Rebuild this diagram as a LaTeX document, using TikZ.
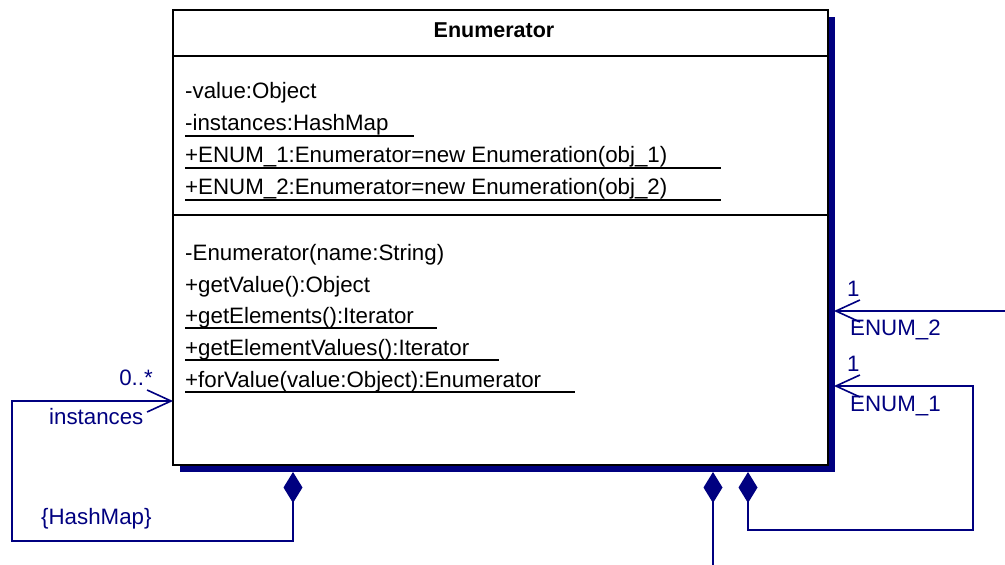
\documentclass[tikz,border=0pt]{standalone}
\usepackage{fontspec}
\setmainfont{Liberation Sans}
\usetikzlibrary{arrows.meta}
\definecolor{umlblue}{RGB}{0,0,128}
\begin{document}
\begin{tikzpicture}[x=1pt,y=-1pt,
  txt/.style={anchor=base west, inner sep=0pt, font=\fontsize{22.3pt}{26pt}\selectfont},
  lbl/.style={txt, text=umlblue},
  uline/.style={line width=1.5pt, black},
  sep/.style={line width=2pt, black},
  assoc/.style={line width=1.6pt, umlblue},
  dia/.tip={Diamond[length=31pt,width=19pt]},
  barb/.tip={Straight Barb[length=24pt,width=22pt]}
]
\useasboundingbox (0,0) rectangle (1005,565);
% shadow and class box
\fill[umlblue] (180,17) rectangle (835,472);
\node[draw=black, line width=2pt, fill=white, minimum width=655pt, minimum height=455pt, inner sep=0pt] (cls) at (500.5,237.5) {};
\draw[sep] (173,56) -- (828,56);
\draw[sep] (173,215) -- (828,215);
\node[anchor=base, inner sep=0pt, font=\bfseries\fontsize{21.5pt}{26pt}\selectfont] (title) at (494,37) {Enumerator};
% attributes
\node[txt] (a1) at (185,98) {-value:Object};
\node[txt] (a2) at (185,130) {-instances:HashMap};
\node[txt] (a3) at (185,162) {+ENUM\_1:Enumerator=new Enumeration(obj\_1)};
\node[txt] (a4) at (185,194) {+ENUM\_2:Enumerator=new Enumeration(obj\_2)};
\draw[uline] (185,136) -- (414,136);
\draw[uline] (185,168) -- (721,168);
\draw[uline] (185,200) -- (721,200);
% operations
\node[txt] (o1) at (185,260) {-Enumerator(name:String)};
\node[txt] (o2) at (185,292) {+getValue():Object};
\node[txt] (o3) at (185,323) {+getElements():Iterator};
\node[txt] (o4) at (185,355) {+getElementValues():Iterator};
\node[txt] (o5) at (185,387) {+forValue(value:Object):Enumerator};
\draw[uline] (185,328) -- (437,328);
\draw[uline] (185,360) -- (499,360);
\draw[uline] (185,392) -- (575,392);
% connector end points
\coordinate (dI) at (293,472);
\coordinate (aI) at (173,401);
\coordinate (dE1) at (748,472);
\coordinate (aE1) at (834,386);
\coordinate (aE2) at (834,311);
\coordinate (fE2) at (1005,311);
\coordinate (dX) at (713,472);
\coordinate (fX) at (713,565);
% connectors
\draw[assoc, dia-barb] (dI) -- (293,541) -- (12,541) -- (12,401) -- (aI);
\draw[assoc, dia-barb] (dE1) -- (748,530) -- (973,530) -- (973,386) -- (aE1);
\draw[assoc, -barb] (fE2) -- (aE2);
\draw[assoc, dia-] (dX) -- (fX);
% labels
\node[lbl, anchor=base east] (m1) at (153,385) {0..*};
\node[lbl] (r1) at (49,424) {instances};
\node[lbl] (h1) at (41,524) {\{HashMap\}};
\node[lbl] (m2) at (847,296) {1};
\node[lbl] (r2) at (850,335) {ENUM\_2};
\node[lbl] (m3) at (847,371) {1};
\node[lbl] (r3) at (850,411) {ENUM\_1};
\end{tikzpicture}
\end{document}
